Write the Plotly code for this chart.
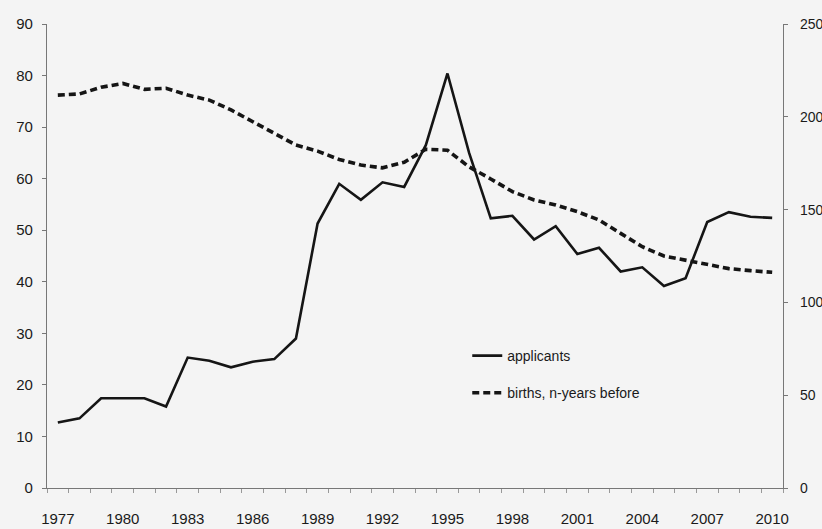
import plotly.graph_objects as go

years = list(range(1977, 2011))

applicants = [12.7, 13.5, 17.4, 17.4, 17.4, 15.8, 25.3, 24.7, 23.4, 24.5,
              25.0, 29.0, 51.3, 59.0, 55.9, 59.3, 58.4, 66.5, 80.4, 65.0,
              52.3, 52.8, 48.2, 50.8, 45.4, 46.6, 42.0, 42.8, 39.2, 40.7,
              51.6, 53.5, 52.6, 52.4]

births = [211.7, 212.3, 215.9, 218.0, 214.8, 215.4, 211.7, 209.0, 203.7, 197.4,
          191.1, 184.8, 181.5, 177.0, 174.0, 172.5, 175.5, 182.5, 182.0, 173.0,
          166.5, 159.7, 155.2, 152.5, 148.9, 144.4, 137.2, 130.0, 125.0, 122.8,
          120.2, 118.2, 117.1, 116.2]

year_labels = list(range(1977, 2011, 3))
left_ticks = list(range(0, 91, 10))
right_ticks = list(range(0, 251, 50))

FONT = "Liberation Sans, Arial, sans-serif"

fig = go.Figure()
fig.add_trace(go.Scatter(
    x=years, y=applicants, mode="lines", name="applicants",
    line=dict(color="#151515", width=2.6), legendgroup="a"
))
fig.add_trace(go.Scatter(
    x=years, y=births, mode="lines", name="births, n-years before",
    line=dict(color="#151515", width=3.6, dash="7px,4px"),
    yaxis="y2", legendgroup="b"
))

axis_common = dict(showgrid=False, zeroline=False, showline=True,
                   linecolor="#777", linewidth=1.2, ticks="outside",
                   ticklen=4, tickcolor="#777", automargin=False)

fig.update_layout(
    width=822, height=529,
    margin=dict(l=47, r=39, t=24, b=41),
    paper_bgcolor="#f4f4f4", plot_bgcolor="#f4f4f4",
    font=dict(family=FONT, size=14, color="#1a1a1a"),
    xaxis=dict(range=[1976.5, 2010.5], tickvals=year_labels,
               ticktext=[str(y) for y in year_labels],
               showgrid=False, zeroline=False, showline=True,
               linecolor="#777", linewidth=1.2, ticks="",
               ticklabelstandoff=17, automargin=False,
               tickfont=dict(family=FONT, size=15, color="#1a1a1a"),
               minor=dict(tickmode="linear", tick0=1976.5, dtick=1,
                          ticks="outside", ticklen=4, tickcolor="#999")),
    yaxis=dict(range=[0, 90], tickvals=left_ticks, ticklabelstandoff=6,
               tickfont=dict(family=FONT, size=15, color="#1a1a1a"),
               **axis_common),
    yaxis2=dict(range=[0, 250], tickvals=right_ticks, overlaying="y",
                side="right", ticklabelstandoff=9,
                tickfont=dict(family=FONT, size=14, color="#1a1a1a"),
                **axis_common),
    legend=dict(x=0.571, y=0.319, xanchor="left", yanchor="top",
                bgcolor="rgba(0,0,0,0)", tracegroupgap=16,
                font=dict(family=FONT, size=14, color="#1a1a1a")),
    showlegend=True,
)

# drop the default 8px page margin so the figure fills the window exactly
fig.write_html("out.html", config={"displayModeBar": False}, post_script=(
    "document.body.style.margin='0';"
    "document.documentElement.style.overflow='hidden';"
))
